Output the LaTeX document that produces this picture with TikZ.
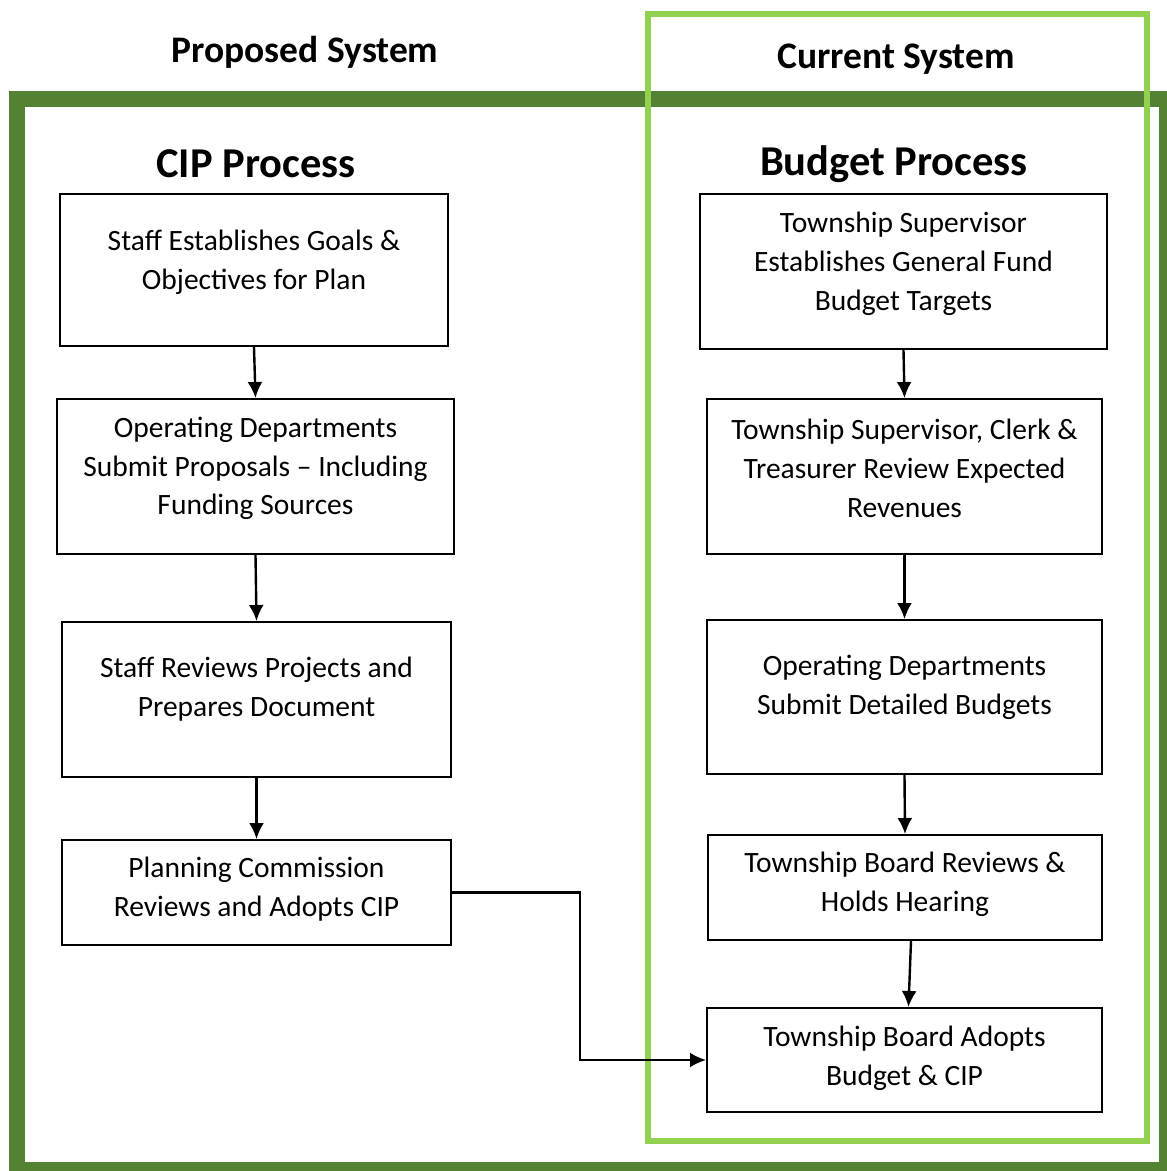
\documentclass[tikz,border=0pt]{standalone}
\usepackage{fontspec}
\setmainfont{Carlito}
\usetikzlibrary{arrows.meta}
\definecolor{frameDark}{RGB}{84,130,53}
\definecolor{frameLight}{RGB}{146,208,80}
\tikzset{%
  >={Latex[length=16pt,width=15pt]}, % filled arrow heads
  procbox/.style={draw=black, line width=2pt, inner sep=0pt, fill=white},
  boxtext/.style={align=center, inner sep=0pt, font=\fontsize{29.5}{38.8}\selectfont},
  headtext/.style={font=\bfseries\fontsize{42.5}{48}\selectfont},
  systext/.style={font=\bfseries\fontsize{37.5}{42}\selectfont},
  flowline/.style={line width=2.4pt,->}%
}
\begin{document}
\begin{tikzpicture}[x=1pt,y=-1pt] % pixel grid, y downwards

    \useasboundingbox (0,0) rectangle (1167,1171);

    % frames
    \draw[frameDark, line width=16pt] (17,99) rectangle (1167,1170);
    \draw[frameLight, line width=6pt] (648,14) rectangle (1146.5,1140.5);

    % titles
    \node[systext] (propSys) at (305,52) {Proposed System};
    \node[systext] (currSys) at (896,59) {Current System};
    \node[headtext] (cipHead) at (256,164) {CIP Process};
    \node[headtext] (budHead) at (894,164) {Budget Process};

    % CIP column
    \node[procbox, minimum width=388pt, minimum height=152pt,
      label={[boxtext, yshift=7.5pt]center:{Staff Establishes Goals \&\\Objectives for Plan}}]
      (cipGoals) at (254,270) {};
    \node[procbox, minimum width=397pt, minimum height=155pt,
      label={[boxtext, yshift=8pt]center:{Operating Departments\\Submit Proposals -- Including\\Funding Sources}}]
      (cipProps) at (255.5,476.5) {};
    \node[procbox, minimum width=389pt, minimum height=155pt,
      label={[boxtext, yshift=10pt]center:{Staff Reviews Projects and\\Prepares Document}}]
      (cipReview) at (256.5,699.5) {};
    \node[procbox, minimum width=389pt, minimum height=105pt,
      label={[boxtext, yshift=3pt]center:{Planning Commission\\Reviews and Adopts CIP}}]
      (cipAdopt) at (256.5,892.5) {};

    % Budget column
    \node[procbox, minimum width=407pt, minimum height=155pt,
      label={[boxtext, yshift=8pt]center:{Township Supervisor\\Establishes General Fund\\Budget Targets}}]
      (budTargets) at (903.5,271.5) {};
    \node[procbox, minimum width=395pt, minimum height=155pt,
      label={[boxtext, yshift=8pt]center:{Township Supervisor, Clerk \&\\Treasurer Review Expected\\Revenues}}]
      (budRevenue) at (904.5,476.5) {};
    \node[procbox, minimum width=395pt, minimum height=154pt,
      label={[boxtext, yshift=10pt]center:{Operating Departments\\Submit Detailed Budgets}}]
      (budDepts) at (904.5,697) {};
    \node[procbox, minimum width=394pt, minimum height=105pt,
      label={[boxtext, yshift=3pt]center:{Township Board Reviews \&\\Holds Hearing}}]
      (budHear) at (905,887.5) {};
    \node[procbox, minimum width=395pt, minimum height=104pt,
      label={[boxtext, yshift=2pt]center:{Township Board Adopts\\Budget \& CIP}}]
      (budAdopt) at (904.5,1060) {};

    % arrows
    \draw[flowline] (cipGoals.south) -- (cipProps.north);
    \draw[flowline] (cipProps.south) -- (cipReview.north);
    \draw[flowline] (cipReview.south) -- (cipAdopt.north);
    \draw[flowline] (budTargets.south) -- (budRevenue.north);
    \draw[flowline] (budRevenue.south) -- (budDepts.north);
    \draw[flowline] (budDepts.south) -- (budHear.north);
    \draw[flowline] ([xshift=6pt]budHear.south) -- ([xshift=4pt]budAdopt.north);
    \draw[flowline] (cipAdopt.east) -- ++(128,0) |- (budAdopt.west); % CIP feeds budget

\end{tikzpicture}
\end{document}
